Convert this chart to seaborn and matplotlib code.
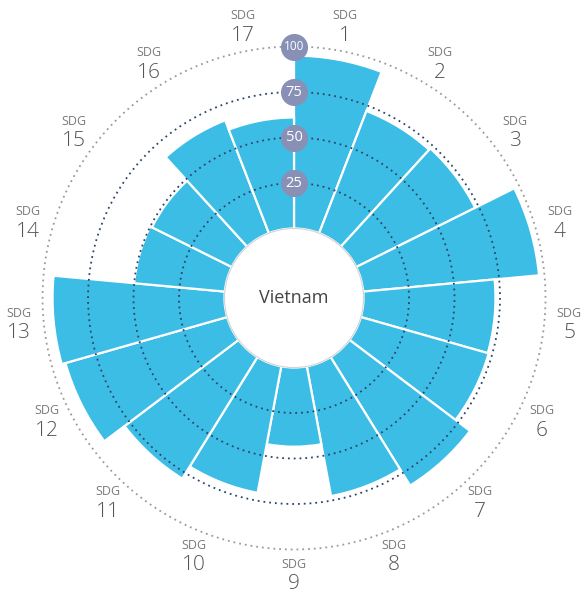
"""
Vietnam SDG index - polar bar (rose) chart
"""

import numpy as np
import matplotlib
matplotlib.use('Agg')
import matplotlib.pyplot as plt
import seaborn as sns

# ============================================
# Data
# ============================================
sdg_numbers = [str(i) for i in range(1, 18)]
sdg_scores = [95, 72, 73, 97, 72.5, 73, 83, 72.5, 43.5, 70.7, 78.5, 92.4, 94.5, 50, 49, 66.5, 61]
ring_levels = [25, 50, 75, 100]
country = 'Vietnam'

# Colors
BAR_COLOR = '#3bbde6'
RING_COLOR = '#2c4566'
OUTER_RING_COLOR = '#9a9a9a'
BADGE_COLOR = '#8890b6'

sns.set_style('white')
plt.rcParams['font.family'] = ['Open Sans', 'DejaVu Sans']

# ============================================
# Figure / polar axes
# ============================================
fig = plt.figure(figsize=(5.85, 5.94), dpi=100)
# center at (294, 298) px from top-left, r=100 -> 251.5 px
ax = fig.add_axes([0.0727, 0.0749, 0.8598, 0.8468], projection='polar')
ax.set_theta_zero_location('N')
ax.set_theta_direction(-1)
ax.set_ylim(0, 100)
ax.set_rorigin(-38.2)  # hole in the middle

n = len(sdg_scores)
width = 2 * np.pi / n
theta = np.arange(n) * width + width / 2

ax.bar(theta, sdg_scores, width=width, bottom=0, color=BAR_COLOR,
       edgecolor='white', linewidth=1.6, zorder=2)

# dotted rings drawn over the bars
t = np.linspace(0, 2 * np.pi, 720)
for lvl in ring_levels:
    col = OUTER_RING_COLOR if lvl == 100 else RING_COLOR
    ax.plot(t, np.full_like(t, lvl), color=col, linestyle=(0, (1, 2.2)),
            linewidth=1.3, zorder=3, clip_on=False)

# level badges on the vertical axis
ax.scatter([0] * len(ring_levels), ring_levels, s=380, color=BADGE_COLOR,
           zorder=5, clip_on=False, linewidths=0)
for lvl in ring_levels:
    ax.text(0, lvl, str(lvl), ha='center', va='center', color='white',
            fontsize=10.5 if lvl < 100 else 8.5, zorder=6)

# SDG labels around the outside
label_r = 113.7
for th, num in zip(theta, sdg_numbers):
    ax.annotate('SDG', xy=(th, label_r), xytext=(0, 7.5), textcoords='offset points',
                ha='center', va='center', fontsize=9, color='#7a7a7a',
                annotation_clip=False)
    ax.annotate(num, xy=(th, label_r), xytext=(0, -7), textcoords='offset points',
                ha='center', va='center', fontsize=15, color='#555555',
                fontweight='light', annotation_clip=False)

# country name in the hole
ax.text(0, -38.2, country, ha='center', va='center', fontsize=13, color='#444444')

ax.set_xticks([])
ax.set_yticks([])
ax.grid(False)
ax.spines['polar'].set_visible(False)
ax.spines['inner'].set_color('#d4d4d4')
ax.spines['inner'].set_linewidth(0.8)
ax.patch.set_alpha(0)

plt.savefig('out.png', dpi=100)
plt.close()
